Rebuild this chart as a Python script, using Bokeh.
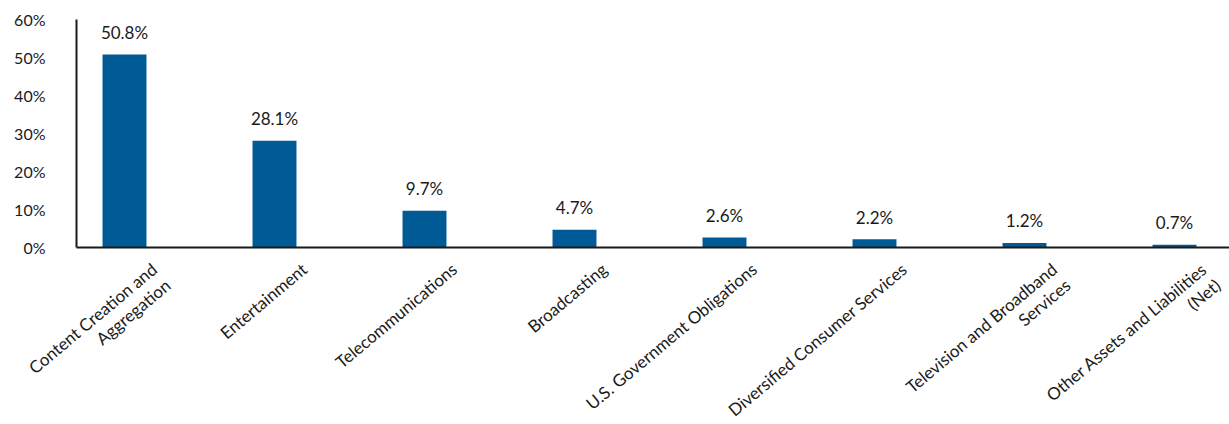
import math
from bokeh.plotting import figure
from bokeh.models import Range1d, FixedTicker, PrintfTickFormatter, ColumnDataSource, LabelSet
from bokeh.core.properties import value
from bokeh.embed import file_html
from bokeh.resources import INLINE

categories = [
    "Content Creation and\nAggregation",
    "Entertainment",
    "Telecommunications",
    "Broadcasting",
    "U.S. Government Obligations",
    "Diversified Consumer Services",
    "Television and Broadband\nServices",
    "Other Assets and Liabilities\n(Net)",
]
values = [50.8, 28.1, 9.7, 4.7, 2.6, 2.2, 1.2, 0.7]
labels = ["50.8%", "28.1%", "9.7%", "4.7%", "2.6%", "2.2%", "1.2%", "0.7%"]
y_ticks = [0, 10, 20, 30, 40, 50, 60]

FONT = "Lato"
BAR = "#005A96"
TXT = "#1a1a1a"

# layout: plot area spans the whole canvas so the rotated category labels are not clipped
PX_X, PX_Y = 150.0, 3.8             # px per category, px per percent
X0, X1 = -124 / PX_X, 1105 / PX_X   # x data range
Y_AXIS_AT = -0.32                   # where the value axis sits
Y0, Y1 = -177 / PX_Y, 60 + 19 / PX_Y

xs = list(range(len(categories)))
src = ColumnDataSource(dict(x=xs, top=values, lab=labels))

# category labels: one row per text line, right-aligned lines stacked along the rotation
ANG = math.radians(40)
LH = 21.0
XOFF, YOFF = 23.0, -11.0
lx, lt, lxo, lyo, lz = [], [], [], [], []
for i, c in enumerate(categories):
    for k, line in enumerate(c.split("\n")):
        lx.append(i)
        lt.append(line)
        lz.append(0)
        lxo.append(XOFF + k * LH * math.sin(ANG))
        lyo.append(YOFF - k * LH * math.cos(ANG))
cat_src = ColumnDataSource(dict(x=lx, y=lz, text=lt, xo=lxo, yo=lyo))

p = figure(
    width=1229, height=424,
    output_backend="svg", toolbar_location=None,
    x_range=Range1d(X0, X1), y_range=Range1d(Y0, Y1),
    min_border_left=0, min_border_right=0, min_border_top=0, min_border_bottom=0,
)
p.outline_line_color = None
p.grid.grid_line_color = None
p.background_fill_color = "white"
p.border_fill_color = "white"

p.vbar(x="x", top="top", width=0.293, bottom=0, source=src, fill_color=BAR, line_color=None)
p.text(x="x", y="top", text="lab", source=src, y_offset=-22,
       text_align="center", text_baseline="middle",
       text_font=value(FONT), text_font_size="17px", text_color=TXT)

# y axis
ya = p.yaxis[0]
ya.fixed_location = Y_AXIS_AT
ya.bounds = (0, 60)
ya.ticker = FixedTicker(ticks=y_ticks)
ya.formatter = PrintfTickFormatter(format="%d%%")
ya.major_tick_line_color = None
ya.minor_tick_line_color = None
ya.major_tick_out = 0
ya.major_tick_in = 0
ya.axis_line_color = TXT
ya.axis_line_width = 2
ya.major_label_standoff = 31
ya.major_label_text_font = FONT
ya.major_label_text_font_size = "16px"
ya.major_label_text_color = TXT

# x axis: baseline only, category labels placed along it by the x scale
xa = p.xaxis[0]
xa.fixed_location = 0
xa.bounds = (Y_AXIS_AT, X1)
xa.ticker = FixedTicker(ticks=[])
xa.major_tick_line_color = None
xa.minor_tick_line_color = None
xa.major_tick_out = 0
xa.major_tick_in = 0
xa.axis_line_color = TXT
xa.axis_line_width = 2

cat_labels = LabelSet(
    x="x", y="y", text="text", source=cat_src,
    x_offset="xo", y_offset="yo",
    angle=ANG,
    text_align="right", text_baseline="top",
    text_font=value(FONT), text_font_size="17px", text_color=TXT,
)
p.add_layout(cat_labels)

open("out.html", "w").write(file_html(p, INLINE))
